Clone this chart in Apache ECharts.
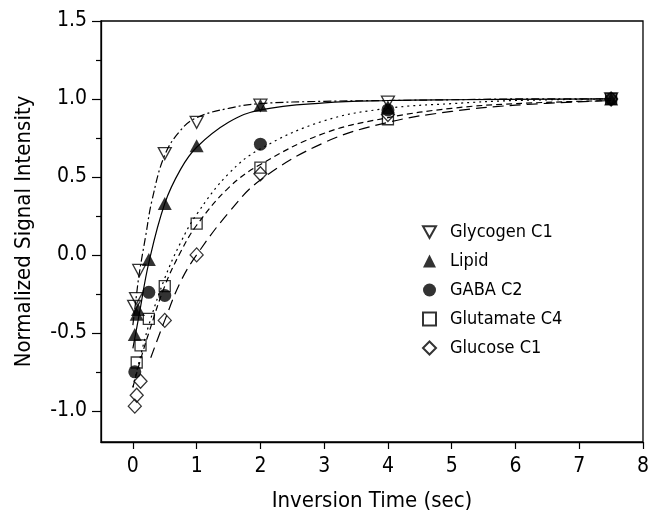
<!DOCTYPE html>
<html>
<head>
<meta charset="utf-8">
<script src="https://cdn.jsdelivr.net/npm/echarts@6/dist/echarts.min.js"></script>
<style>
  html, body { margin: 0; padding: 0; background: #fff; }
  #chart { width: 652px; height: 519px; }
</style>
</head>
<body>
<div id="chart"></div>
<script>
// measured points (inversion time in sec, normalized signal)
var glycogenPts = [[0.02, -0.33], [0.05, -0.28], [0.1, -0.1], [0.5, 0.65], [1, 0.85], [2, 0.96], [4, 0.98], [7.5, 1.0]];
var lipidPts = [[0.03, -0.51], [0.06, -0.38], [0.08, -0.35], [0.25, -0.03], [0.5, 0.33], [1, 0.70], [2, 0.96], [4, 0.95], [7.5, 1.0]];
var gabaPts = [[0.03, -0.75], [0.25, -0.24], [0.5, -0.26], [2, 0.71], [4, 0.93], [7.5, 1.0]];
var glutamatePts = [[0.06, -0.69], [0.12, -0.58], [0.25, -0.41], [0.5, -0.2], [1, 0.2], [2, 0.56], [4, 0.87], [7.5, 1.0]];
var glucosePts = [[0.03, -0.97], [0.06, -0.90], [0.12, -0.81], [0.5, -0.42], [1, 0.0], [2, 0.52], [4, 0.9], [7.5, 1.0]];

// fitted curves
var glycogenFit = [[0, -0.45], [0.05, -0.28], [0.1, -0.12], [0.2, 0.12], [0.3, 0.35], [0.5, 0.64], [0.75, 0.8], [1, 0.88], [1.5, 0.94], [2, 0.97], [3, 0.985], [4, 0.99], [5, 0.995], [6, 1.0], [7.5, 1.0]];
var lipidFit = [[0, -0.6], [0.1, -0.38], [0.25, -0.05], [0.5, 0.33], [0.75, 0.55], [1, 0.69], [1.5, 0.85], [2, 0.93], [3, 0.975], [4, 0.99], [5, 0.995], [7.5, 1.0]];
var gabaFit = [[0, -0.85], [0.1, -0.68], [0.25, -0.45], [0.5, -0.15], [0.75, 0.08], [1, 0.26], [1.5, 0.52], [2, 0.68], [3, 0.86], [4, 0.94], [5, 0.97], [6, 0.99], [7.5, 1.0]];
var glutamateFit = [[0, -0.85], [0.1, -0.7], [0.25, -0.5], [0.5, -0.2], [0.75, 0.02], [1, 0.19], [1.5, 0.43], [2, 0.58], [3, 0.78], [4, 0.88], [5, 0.94], [6, 0.97], [7.5, 0.99]];
var glucoseFit = [[0.28, -0.66], [0.5, -0.42], [0.75, -0.17], [1, 0.0], [1.5, 0.27], [2, 0.48], [3, 0.72], [4, 0.85], [5, 0.92], [6, 0.96], [7.5, 0.99]];

var xTicks = [0, 1, 2, 3, 4, 5, 6, 7, 8];
var yTicks = [-1.0, -0.5, 0.0, 0.5, 1.0, 1.5];
var yMinorTicks = [-0.75, -0.25, 0.25, 0.75, 1.25];
var legendNames = ['Glycogen C1', 'Lipid', 'GABA C2', 'Glutamate C4', 'Glucose C1'];

var FONT = '"Liberation Sans Narrow", "DejaVu Sans Condensed", "Liberation Sans", Arial, sans-serif';
var INK = '#000';
var DOWN_TRI = 'path://M0,0 L10,0 L5,9 Z';

function pointSeries(name, data, symbol, size, filled) {
    return {
        name: name,
        type: 'scatter',
        data: data,
        symbol: symbol,
        symbolSize: size,
        z: 5,
        itemStyle: {
            color: filled ? INK : 'rgba(0,0,0,0)',
            borderColor: INK,
            borderWidth: filled ? 0 : 1.3
        }
    };
}
function fitSeries(name, data, dash) {
    return {
        name: name + ' fit',
        type: 'line',
        data: data,
        smooth: 0.4,
        showSymbol: false,
        silent: true,
        z: 3,
        lineStyle: { color: INK, width: 1.2, type: dash }
    };
}

var chart = echarts.init(document.getElementById('chart'), null, { renderer: 'canvas' });
var option = {
    backgroundColor: '#fff',
    animation: false,
    textStyle: { fontFamily: FONT, color: INK },
    grid: {
        left: 101, right: 9, top: 21, bottom: 77,
        show: true, borderColor: INK, borderWidth: 1.3, backgroundColor: 'transparent'
    },
    legend: {
        data: legendNames,
        orient: 'vertical',
        left: 422, top: 223,
        padding: 0,
        itemGap: 11,
        itemWidth: 13, itemHeight: 13,
        textStyle: { fontFamily: FONT, fontSize: 18, color: INK, padding: [0, 0, 0, 9] }
    },
    xAxis: {
        type: 'value',
        min: -0.5, max: 8,
        name: 'Inversion Time (sec)',
        nameLocation: 'middle',
        nameGap: 48,
        nameTextStyle: { fontFamily: FONT, fontSize: 22, color: INK },
        axisLine: { onZero: false, lineStyle: { color: INK, width: 1.3 } },
        axisTick: { show: true, length: 7, inside: false, customValues: xTicks, lineStyle: { color: INK, width: 1.2 } },
        axisLabel: { fontFamily: FONT, fontSize: 21, color: INK, margin: 14, customValues: xTicks },
        splitLine: { show: false }
    },
    yAxis: [{
        type: 'value',
        min: -1.2, max: 1.5,
        name: 'Normalized Signal Intensity',
        nameLocation: 'middle',
        nameGap: 66,
        nameRotate: 90,
        nameTextStyle: { fontFamily: FONT, fontSize: 22, color: INK },
        axisLine: { show: true, onZero: false, lineStyle: { color: INK, width: 1.3 } },
        axisTick: { show: true, length: 9, customValues: yTicks, lineStyle: { color: INK, width: 1.2 } },
        axisLabel: {
            fontFamily: FONT, fontSize: 21, color: INK, margin: 14, customValues: yTicks,
            formatter: function (v) { return v.toFixed(1); }
        },
        splitLine: { show: false }
    }, {
        type: 'value',
        min: -1.2, max: 1.5,
        position: 'left',
        axisLine: { show: false, onZero: false },
        axisTick: { show: true, length: 5, customValues: yMinorTicks, lineStyle: { color: INK, width: 1.2 } },
        axisLabel: { show: false },
        splitLine: { show: false }
    }],
    series: [
        fitSeries('Glycogen C1', glycogenFit, [8, 3, 2, 3]),
        fitSeries('Lipid', lipidFit, 'solid'),
        fitSeries('GABA C2', gabaFit, [2, 4]),
        fitSeries('Glutamate C4', glutamateFit, [6, 4]),
        fitSeries('Glucose C1', glucoseFit, [11, 6]),
        pointSeries('Glycogen C1', glycogenPts, DOWN_TRI, [13, 12], false),
        pointSeries('Lipid', lipidPts, 'triangle', [14, 13], true),
        pointSeries('GABA C2', gabaPts, 'circle', 13, true),
        pointSeries('Glutamate C4', glutamatePts, 'rect', 11, false),
        pointSeries('Glucose C1', glucosePts, 'diamond', [13, 14], false)
    ]
};
chart.setOption(option);
</script>
</body>
</html>
